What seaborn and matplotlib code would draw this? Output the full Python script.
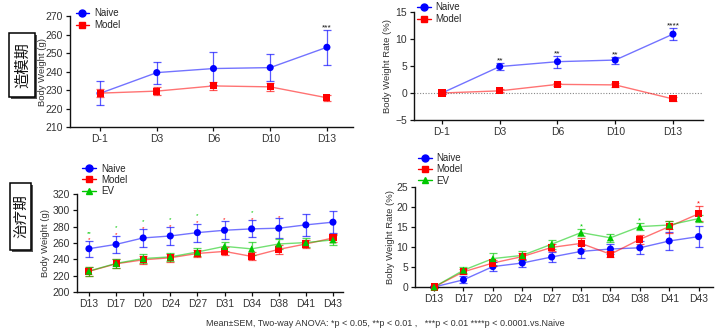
import numpy as np
import pandas as pd
import matplotlib
matplotlib.use("Agg")
import matplotlib.pyplot as plt
from matplotlib.lines import Line2D
from matplotlib.patches import Rectangle
import seaborn as sns

# ---------------- induction phase (造模期) ----------------
days_ind = ["D-1", "D3", "D6", "D10", "D13"]
bw_naive_ind = [228.2, 239.4, 241.6, 242.1, 253.1]
bw_naive_ind_sem = [6.5, 6.0, 8.8, 7.3, 9.4]
bw_model_ind = [228.3, 229.4, 232.2, 231.7, 225.8]
bw_model_ind_sem = [2.2, 2.0, 2.0, 2.0, 1.6]
bw_ind_stars = ["", "", "", "", "***"]

rate_naive_ind = [0.0, 4.9, 5.8, 6.1, 10.9]
rate_naive_ind_sem = [0.2, 0.7, 1.1, 0.65, 1.15]
rate_model_ind = [0.0, 0.4, 1.6, 1.5, -1.1]
rate_model_ind_sem = [0.2, 0.3, 0.3, 0.4, 0.4]
rate_ind_stars = ["", "**", "**", "**", "****"]

# ---------------- treatment phase (治疗期) ----------------
days_trt = ["D13", "D17", "D20", "D24", "D27", "D31", "D34", "D38", "D41", "D43"]
bw_naive_trt = [253.0, 258.3, 266.2, 268.6, 272.7, 275.6, 277.3, 278.1, 282.2, 285.5]
bw_naive_trt_sem = [9.6, 10.8, 10.6, 10.5, 11.0, 11.3, 10.5, 12.0, 13.4, 13.5]
bw_model_trt = [225.3, 234.5, 239.4, 241.9, 247.2, 249.7, 243.6, 252.2, 258.8, 266.2]
bw_model_trt_sem = [5.5, 5.3, 5.0, 4.8, 4.8, 5.0, 5.0, 5.2, 5.0, 5.2]
bw_ev_trt = [225.6, 235.0, 241.0, 243.0, 249.0, 255.9, 252.8, 258.8, 260.5, 263.8]
bw_ev_trt_sem = [5.5, 5.5, 5.2, 5.0, 5.2, 5.7, 8.0, 6.0, 5.5, 6.0]
bw_model_trt_stars = ["*", "*", "*", "*", "*", "*", "*", "*", "", ""]
bw_ev_trt_stars = ["**", "*", "*", "*", "*", "", "*", "", "", ""]

rate_naive_trt = [0.0, 1.8, 5.1, 6.0, 7.5, 8.9, 9.5, 9.8, 11.5, 12.6]
rate_naive_trt_sem = [0.2, 0.9, 1.2, 0.9, 1.3, 1.6, 1.2, 1.6, 2.2, 2.6]
rate_model_trt = [0.0, 3.8, 6.0, 7.6, 9.9, 10.9, 8.2, 11.9, 15.1, 18.3]
rate_model_trt_sem = [0.2, 0.6, 0.7, 0.8, 0.9, 1.3, 0.7, 1.1, 1.5, 1.9]
rate_ev_trt = [0.0, 4.2, 7.1, 7.9, 10.7, 13.6, 12.3, 15.1, 15.5, 17.1]
rate_ev_trt_sem = [0.2, 0.8, 1.5, 1.2, 1.1, 0.9, 1.0, 0.8, 1.0, 0.8]
rate_model_trt_stars = ["", "", "", "", "", "", "", "", "", "*"]
rate_ev_trt_stars = ["", "", "", "", "", "*", "", "*", "", ""]

groups = ["Naive", "Model", "EV"]
colors = {"Naive": "#0000FF", "Model": "#FF0000", "EV": "#00C800"}
markers = {"Naive": "o", "Model": "s", "EV": "^"}
sizes = {"Naive": 5.0, "Model": 5.0, "EV": 4.8}

FONT = "Liberation Sans"
sns.set_style("ticks")
plt.rcParams["font.family"] = [FONT, "DejaVu Sans"]


def frame(days, **series):
    rows = []
    for name, (vals, sems) in series.items():
        for i, (d, v, e) in enumerate(zip(days, vals, sems)):
            rows.append({"pos": i, "day": d, "group": name, "value": v, "sem": e})
    return pd.DataFrame(rows)


def draw(ax, days, df, ylim, yticks, ylabel, xlim, leg_xy, ylab_x, spacing):
    present = [g for g in groups if g in df["group"].unique()]
    pal = {g: colors[g] for g in present}
    sns.lineplot(data=df, x="pos", y="value", hue="group", hue_order=present,
                 palette=pal, estimator=None, sort=False, linewidth=1.0,
                 alpha=0.55, legend=False, ax=ax, zorder=2)
    for g in present:
        sub = df[df["group"] == g]
        ax.errorbar(sub["pos"], sub["value"], yerr=sub["sem"], fmt="none",
                    ecolor=colors[g], elinewidth=0.9, capsize=2.6,
                    capthick=0.9, alpha=0.65, zorder=3, clip_on=False)
    sns.scatterplot(data=df, x="pos", y="value", hue="group", hue_order=present,
                    style="group", style_order=present,
                    markers={g: markers[g] for g in present}, palette=pal,
                    s=26, linewidth=0, legend=False, ax=ax, zorder=4,
                    clip_on=False)
    ax.set_xlim(*xlim)
    ax.set_ylim(*ylim)
    ax.set_yticks(yticks)
    ax.set_xticks(range(len(days)))
    ax.set_xticklabels(days)
    ax.set_xlabel("")
    ax.set_ylabel(ylabel, fontsize=6.8, color="#333333")
    ax.yaxis.set_label_coords(ylab_x, 0.5)
    sns.despine(ax=ax)
    for s in ("left", "bottom"):
        ax.spines[s].set_linewidth(1.0)
        ax.spines[s].set_color("#111111")
    ax.tick_params(axis="both", labelsize=7.5, length=3, width=0.9,
                   colors="#111111", labelcolor="#333333", pad=2)
    handles = [Line2D([0], [0], color=colors[g], marker=markers[g],
                      markersize=sizes[g], linewidth=1.0) for g in present]
    ax.legend(handles, present, loc="upper left", bbox_to_anchor=leg_xy,
              frameon=False, fontsize=7, handlelength=1.4, handletextpad=0.5,
              labelspacing=spacing, borderpad=0, borderaxespad=0)


def stars(ax, xs, ys, labels, color, dy, size=6):
    for x, y, t in zip(xs, ys, labels):
        if t:
            ax.annotate(t, (x, y), xytext=(0, dy), textcoords="offset points",
                        ha="center", va="bottom", fontsize=size, color=color,
                        annotation_clip=False)


fig = plt.figure(figsize=(7.2, 3.31), dpi=100)
W, H = 720, 331


def add_axes(l, r, t, b):
    return fig.add_axes([l / W, 1 - b / H, (r - l) / W, (b - t) / H])


# panel 1: body weight, induction
ax1 = add_axes(70, 353, 16, 127)
df1 = frame(days_ind, Naive=(bw_naive_ind, bw_naive_ind_sem),
            Model=(bw_model_ind, bw_model_ind_sem))
draw(ax1, days_ind, df1, (210, 270), range(210, 271, 10), "Body Weight (g)",
     (-0.53, 4.46), (0.02, 1.07), -0.081, 0.22)
top1 = np.array(bw_naive_ind) + np.array(bw_naive_ind_sem)
stars(ax1, range(len(days_ind)), top1, bw_ind_stars, "#111111", -1)

# panel 2: weight rate, induction
ax2 = add_axes(414, 703, 12, 120)
df2 = frame(days_ind, Naive=(rate_naive_ind, rate_naive_ind_sem),
            Model=(rate_model_ind, rate_model_ind_sem))
draw(ax2, days_ind, df2, (-5, 15), range(-5, 16, 5), "Body Weight Rate (%)",
     (-0.485, 4.52), (0.01, 1.09), -0.076, 0.22)
ax2.axhline(0, color="#888888", linestyle=(0, (1, 1.5)), linewidth=0.8, zorder=1)
top2 = np.array(rate_naive_ind) + np.array(rate_naive_ind_sem)
stars(ax2, range(len(days_ind)), top2, rate_ind_stars, "#111111", -1)

# panel 3: body weight, treatment
ax3 = add_axes(77, 343, 194, 292)
df3 = frame(days_trt, Naive=(bw_naive_trt, bw_naive_trt_sem),
            Model=(bw_model_trt, bw_model_trt_sem),
            EV=(bw_ev_trt, bw_ev_trt_sem))
draw(ax3, days_trt, df3, (200, 320), range(200, 321, 20), "Body Weight (g)",
     (-0.44, 9.37), (0.02, 1.31), -0.10, 0.12)
top3 = np.array(bw_naive_trt) + np.array(bw_naive_trt_sem)
stars(ax3, range(len(days_trt)), top3, bw_model_trt_stars, colors["Model"], -1.0, 4.5)
stars(ax3, range(len(days_trt)), top3, bw_ev_trt_stars, colors["EV"], 3.8, 4.5)

# panel 4: weight rate, treatment
ax4 = add_axes(415, 713, 187, 287)
df4 = frame(days_trt, Naive=(rate_naive_trt, rate_naive_trt_sem),
            Model=(rate_model_trt, rate_model_trt_sem),
            EV=(rate_ev_trt, rate_ev_trt_sem))
draw(ax4, days_trt, df4, (0, 25), range(0, 26, 5), "Boby Weight Rate (%)",
     (-0.65, 9.49), (0.01, 1.34), -0.067, 0.14)
top4m = np.array(rate_model_trt) + np.array(rate_model_trt_sem)
top4e = np.array(rate_ev_trt) + np.array(rate_ev_trt_sem)
stars(ax4, range(len(days_trt)), top4m, rate_model_trt_stars, colors["Model"], -1, 5.5)
stars(ax4, range(len(days_trt)), top4e, rate_ev_trt_stars, colors["EV"], -1, 5.5)

# phase labels, rotated, each inside a framed box with a faint shadow
cjk = ["Noto Sans CJK SC", "DejaVu Sans"]


def phase_label(text, l, r, t, b, size):
    shadow = Rectangle(((l + 1.5) / W, 1 - (b + 1.5) / H), (r - l) / W,
                       (b - t) / H, transform=fig.transFigure,
                       facecolor="#555555", edgecolor="none", zorder=1)
    frame_box = Rectangle((l / W, 1 - b / H), (r - l) / W, (b - t) / H,
                          transform=fig.transFigure, facecolor="white",
                          edgecolor="black", linewidth=1.1, zorder=2)
    fig.patches.extend([shadow, frame_box])
    fig.text((l + r) / 2 / W + 0.5 / W, 1 - (t + b) / 2 / H, text, family=cjk,
             fontsize=size, ha="center", va="center", rotation=90,
             zorder=3, color="#111111")


phase_label("造模期", 9, 35, 33, 97, 11)
phase_label("治疗期", 10, 31, 183, 250, 10.5)

fig.text(385 / W, 1 - 323 / H,
         "Mean\u00b1SEM, Two-way ANOVA: *p < 0.05, **p < 0.01 ,   ***p < 0.01 ****p < 0.0001.vs.Naive",
         ha="center", va="center", fontsize=6.5, color="#333333")

fig.savefig("out.png", dpi=100)
